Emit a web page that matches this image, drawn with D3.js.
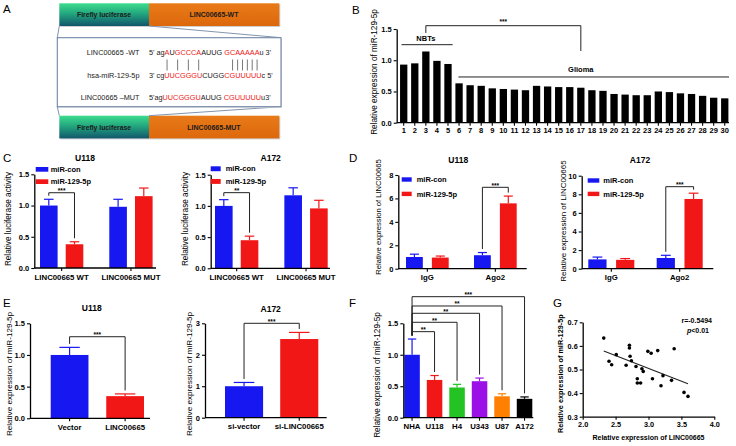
<!DOCTYPE html>
<html><head><meta charset="utf-8">
<script src="https://cdn.jsdelivr.net/npm/d3@7"></script>
<style>
body{margin:0;background:#fff}
svg{display:block}
text{font-family:"Liberation Sans",Arial,Helvetica,sans-serif}
</style>
</head><body>
<svg id="c" width="736" height="446"></svg>
<script>
// ---------------- DATA ----------------
const BLUE = "#1717f2", RED = "#f21717";
// Panel B
const bSamples = ["1","2","3","4","5","6","7","8","9","10","11","12","13","14","15","16","17","18","19","20","21","22","23","24","25","26","27","28","29","30"];
const bValues = [0.93,0.95,1.14,0.99,0.94,0.63,0.60,0.59,0.55,0.54,0.53,0.52,0.59,0.58,0.57,0.57,0.56,0.52,0.51,0.46,0.45,0.44,0.44,0.50,0.49,0.47,0.46,0.43,0.40,0.39];
const bTicks = [0, 0.5, 1.0, 1.5];
// Panel C
const groupsC = ["LINC00665 WT","LINC00665 MUT"];
const seriesNames = ["miR-con","miR-129-5p"];
const cU118Con = [1.00, 0.98], cU118ConErr = [0.10, 0.12];
const cU118Mir = [0.38, 1.15], cU118MirErr = [0.04, 0.13];
const cA172Con = [1.00, 1.17], cA172ConErr = [0.10, 0.12];
const cA172Mir = [0.45, 0.96], cA172MirErr = [0.065, 0.13];
const cTicks = [0, 0.5, 1.0, 1.5];
// Panel D
const groupsD = ["IgG","Ago2"];
const dU118Con = [1.00, 1.15], dU118ConErr = [0.24, 0.23];
const dU118Mir = [0.95, 5.58], dU118MirErr = [0.13, 0.62];
const dA172Con = [1.00, 1.15], dA172ConErr = [0.25, 0.29];
const dA172Mir = [0.95, 7.50], dA172MirErr = [0.14, 0.62];
const dU118Ticks = [0, 2, 4, 6, 8];
const dA172Ticks = [0, 2, 4, 6, 8, 10];
// Panel E
const eU118Cats = ["Vector","LINC00665"], eU118Vals = [1.00, 0.35], eU118Err = [0.12, 0.035];
const eA172Cats = ["si-vector","si-LINC00665"], eA172Vals = [1.00, 2.50], eA172Err = [0.12, 0.21];
const eU118Ticks = [0, 0.5, 1.0, 1.5];
const eA172Ticks = [0, 1, 2, 3];
// Panel F
const fCats = ["NHA","U118","H4","U343","U87","A172"];
const fVals = [1.00, 0.60, 0.48, 0.58, 0.34, 0.30];
const fErr = [0.25, 0.07, 0.05, 0.05, 0.04, 0.03];
const fColors = ["#1717f2","#f21717","#22c322","#9b10e6","#ff8000","#000000"];
const fSig = ["**","**","**","**","***"];
const fTicks = [0, 0.5, 1.0, 1.5];
// Panel G
const gX = [2.32,2.40,2.44,2.51,2.66,2.71,2.71,2.72,2.74,2.81,2.83,2.83,2.88,2.90,2.92,2.99,3.04,3.06,3.14,3.19,3.22,3.35,3.39,3.54,3.60];
const gY = [0.633,0.535,0.520,0.563,0.518,0.603,0.591,0.556,0.537,0.513,0.461,0.443,0.443,0.503,0.492,0.577,0.569,0.461,0.580,0.431,0.474,0.454,0.588,0.403,0.386];
const gXTicks = [2.0, 2.5, 3.0, 3.5, 4.0];
const gYTicks = [0.3, 0.4, 0.5, 0.6, 0.7];
// Panel A
const seqRows = [
  {label:"LINC00665 -WT", parts:[["5' ag",0],["A",1],["U",0],["GCCCA",1],["AUUG ",0],["GCAAAAA",1],["u 3'",0]]},
  {label:"hsa-miR-129-5p", parts:[["3' cg",0],["UUCGGGU",1],["CUGG",0],["CGUUUUU",1],["c 5'",0]]},
  {label:"LINC00665 \u2013MUT", parts:[["5'ag",0],["UUCGGGU",1],["AUUG ",0],["CGUUUUU",1],["u3'",0]]}
];
const pairIdx = [5,7,9,11,18,19,20,21,22,23];

// ---------------- HELPERS ----------------
const svg = d3.select("#c");
function txt(x, y, s, o = {}) {
  return svg.append("text").attr("x", x).attr("y", y).text(s)
    .attr("font-size", o.size || 8).attr("font-weight", o.weight || "normal")
    .attr("text-anchor", o.anchor || "start").attr("fill", o.fill || "#000")
    .attr("font-style", o.style || "normal");
}
function yTitle(x, yc, s, size, weight) {
  svg.append("text").attr("transform", `translate(${x},${yc}) rotate(-90)`)
    .attr("text-anchor", "middle").attr("dy", "0.35em")
    .attr("font-size", size).attr("font-weight", weight || "normal").text(s);
}
function styleAxis(g, size) {
  g.select(".domain").attr("stroke", "#000").attr("stroke-width", 1.3);
  g.selectAll(".tick line").attr("stroke", "#000").attr("stroke-width", 1.1);
  g.selectAll("text").attr("font-size", size).attr("font-weight", "bold").attr("fill", "#000")
    .attr("font-family", '"Liberation Sans",Arial,sans-serif');
}
function fmt1(d) { return d3.format(".1f")(d); }
function fmt0(d) { return d3.format("d")(d); }

function barPanel(o) {
  const y = d3.scaleLinear().domain([0, o.yMax]).range([o.yBot, o.yTop]);
  const xg = d3.scaleBand().domain(o.groups).range(o.barRange).paddingInner(o.padG).paddingOuter(0);
  const names = o.series.map(s => s.name);
  const xs = d3.scaleBand().domain(names).range([0, xg.bandwidth()]).paddingInner(o.padS).paddingOuter(0);
  const bw = xs.bandwidth();
  const cx = (gi, si) => xg(o.groups[gi]) + xs(names[si]) + bw / 2;
  const items = [];
  o.series.forEach((s, si) => o.groups.forEach((gname, gi) => {
    items.push({gi, si, v: s.values[gi], e: s.errors[gi], c: Array.isArray(s.color) ? s.color[gi] : s.color});
  }));
  const cw = Math.max(bw * 0.27, 3.5);
  const g = svg.append("g");
  g.selectAll("line.eb").data(items).join("line").attr("class", "eb")
    .attr("x1", d => cx(d.gi, d.si)).attr("x2", d => cx(d.gi, d.si))
    .attr("y1", d => y(d.v)).attr("y2", d => y(d.v + d.e))
    .attr("stroke", d => d.c).attr("stroke-width", 1.2);
  g.selectAll("line.cap").data(items).join("line").attr("class", "cap")
    .attr("x1", d => cx(d.gi, d.si) - cw).attr("x2", d => cx(d.gi, d.si) + cw)
    .attr("y1", d => y(d.v + d.e)).attr("y2", d => y(d.v + d.e))
    .attr("stroke", d => d.c).attr("stroke-width", 1.2);
  g.selectAll("rect").data(items).join("rect")
    .attr("x", d => cx(d.gi, d.si) - bw / 2).attr("y", d => y(d.v))
    .attr("width", bw).attr("height", d => y(0) - y(d.v)).attr("fill", d => d.c);
  // y axis
  const ya = svg.append("g").attr("transform", `translate(${o.x0},0)`)
    .call(d3.axisLeft(y).tickValues(o.ticks).tickFormat(o.fmt).tickSize(3).tickSizeOuter(0).tickPadding(2));
  styleAxis(ya, 7.5);
  // x axis
  const xa = svg.append("g").attr("transform", `translate(0,${o.yBot})`)
    .call(d3.axisBottom(xg).tickSize(3).tickSizeOuter(0).tickPadding(3));
  xa.select(".domain").remove();
  styleAxis(xa, o.xFont || 7.8);
  svg.append("line").attr("x1", o.x0).attr("x2", o.x1).attr("y1", o.yBot).attr("y2", o.yBot)
    .attr("stroke", "#000").attr("stroke-width", 1.3);
  // brackets
  (o.brackets || []).forEach(b => {
    const [ga, sa] = b.a, [gb, sb] = b.b;
    const xa_ = cx(ga, sa), xb_ = cx(gb, sb);
    const sA = o.series[sa], sB = o.series[sb];
    const yA = y(sA.values[ga] + sA.errors[ga]) - 3.5;
    const yB = y(sB.values[gb] + sB.errors[gb]) - 3.5;
    const yt = y(b.top);
    svg.append("path").attr("d", `M${xa_},${yA}V${yt}H${xb_}V${yB}`)
      .attr("fill", "none").attr("stroke", "#222").attr("stroke-width", 1);
    txt((xa_ + xb_) / 2, yt + 0.5, b.label, {size: 6.5, anchor: "middle", weight: "bold"});
  });
  // legend
  if (o.legend) {
    const L = o.legend;
    o.series.forEach((s, i) => {
      svg.append("rect").attr("x", L.x).attr("y", L.ys[i]).attr("width", L.w).attr("height", L.h).attr("fill", s.color);
      txt(L.tx, L.ys[i] + L.h / 2, s.name, {size: 7.5, weight: "bold"}).attr("dy", "0.35em");
    });
  }
  if (o.title) txt(o.title[0], o.title[1], o.title[2], {size: 8.5, weight: "bold", anchor: "middle"});
  if (o.ylab) yTitle(o.ylab[0], o.ylab[1], o.ylab[2], o.ylab[3] || 8);
}

// ---------------- PANEL LETTERS ----------------
[["A",3,13],["B",352,14],["C",3,162],["D",349,162],["E",3,307],["F",349,307],["G",553,307]]
  .forEach(([s,x,y]) => txt(x, y, s, {size: 11.5}));

// ---------------- PANEL A ----------------
const defs = svg.append("defs");
const gg = defs.append("linearGradient").attr("id", "gr").attr("x1", 0).attr("y1", 0).attr("x2", 0).attr("y2", 1);
gg.append("stop").attr("offset", "0%").attr("stop-color", "#3edc8e");
gg.append("stop").attr("offset", "45%").attr("stop-color", "#23a77e");
gg.append("stop").attr("offset", "100%").attr("stop-color", "#11566c");
const og = defs.append("linearGradient").attr("id", "or").attr("x1", 0).attr("y1", 0).attr("x2", 0).attr("y2", 1);
og.append("stop").attr("offset", "0%").attr("stop-color", "#e97a18");
og.append("stop").attr("offset", "100%").attr("stop-color", "#dc680c");
function construct(y0, label) {
  svg.append("rect").attr("x", 60.3).attr("y", y0 + 1).attr("width", 220).attr("height", 22.7).attr("fill", "#cfcfcf");
  svg.append("rect").attr("x", 59.3).attr("y", y0).attr("width", 89.7).attr("height", 22.7).attr("fill", "url(#gr)");
  svg.append("rect").attr("x", 149).attr("y", y0).attr("width", 130.3).attr("height", 22.7).attr("fill", "url(#or)");
  txt(104, y0 + 11.5, "Firefly luciferase", {size: 6.8, weight: "bold", anchor: "middle", fill: "#1b1b1b"}).attr("dy", "0.35em");
  txt(214, y0 + 11.5, label, {size: 7, weight: "bold", anchor: "middle", fill: "#1b1b1b"}).attr("dy", "0.35em");
}
construct(3.3, "LINC00665-WT");
construct(115.7, "LINC00665-MUT");
// connectors
[[59.3,26,57.3,37.7],[149,26,281,37.7],[57.3,106.7,59.3,115.7],[281,106.7,149,115.7]].forEach(([a,b,c,d]) =>
  svg.append("line").attr("x1", a).attr("y1", b).attr("x2", c).attr("y2", d).attr("stroke", "#8394ad").attr("stroke-width", 1));
svg.append("rect").attr("x", 58.3).attr("y", 38.7).attr("width", 223.7).attr("height", 69).attr("fill", "#d8d8d8");
svg.append("rect").attr("x", 57.3).attr("y", 37.7).attr("width", 223.7).attr("height", 69).attr("fill", "#fff")
  .attr("stroke", "#7086a6").attr("stroke-width", 1.1);
const rowY = [54.8, 78.3, 99.8];
const seqEls = [];
seqRows.forEach((r, i) => {
  txt(139.5, rowY[i], r.label, {size: 7.3, anchor: "end", fill: "#1a1a1a"});
  const t = svg.append("text").attr("x", 149).attr("y", rowY[i]).attr("font-size", 7.3);
  r.parts.forEach(([s, red]) => t.append("tspan").text(s).attr("fill", red ? "#f01818" : "#1a1a1a"));
  seqEls.push(t);
});
// pairing lines, placed at character positions of the WT row
(function () {
  const node = seqEls[0].node();
  pairIdx.forEach(ix => {
    let x;
    try {
      const ext = node.getExtentOfChar(ix);
      x = ext.x + ext.width / 2;
    } catch (e) { x = 149 + ix * 4.6; }
    svg.append("line").attr("x1", x).attr("x2", x).attr("y1", 59.5).attr("y2", 70.5)
      .attr("stroke", "#555").attr("stroke-width", 0.8);
  });
})();

// ---------------- PANEL B ----------------
(function () {
  const x = d3.scaleBand().domain(bSamples).range([400.05, 728.4]).paddingInner(0.34).paddingOuter(0);
  const y = d3.scaleLinear().domain([0, 1.5]).range([122.7, 29]);
  svg.append("g").selectAll("rect").data(bValues).join("rect")
    .attr("x", (d, i) => x(bSamples[i])).attr("y", d => y(d))
    .attr("width", x.bandwidth()).attr("height", d => y(0) - y(d)).attr("fill", "#000");
  const ya = svg.append("g").attr("transform", "translate(396.7,0)")
    .call(d3.axisLeft(y).tickValues(bTicks).tickFormat(fmt1).tickSize(3).tickSizeOuter(0).tickPadding(2));
  styleAxis(ya, 7.5);
  const xa = svg.append("g").attr("transform", "translate(0,122.7)")
    .call(d3.axisBottom(x).tickSize(3).tickSizeOuter(0).tickPadding(2));
  xa.select(".domain").remove();
  styleAxis(xa, 7.5);
  svg.append("line").attr("x1", 396.7).attr("x2", 729).attr("y1", 122.7).attr("y2", 122.7).attr("stroke", "#000").attr("stroke-width", 1.3);
  const c = s => x(s) + x.bandwidth() / 2;
  // group lines
  svg.append("line").attr("x1", x("1") + 1.5).attr("x2", x("5") + x.bandwidth() + 1).attr("y1", y(1.249)).attr("y2", y(1.249)).attr("stroke", "#222").attr("stroke-width", 1);
  txt((c("1") + c("5")) / 2, y(1.249) - 4, "NBTs", {size: 7.5, weight: "bold", anchor: "middle"});
  svg.append("line").attr("x1", x("6") + 3).attr("x2", 729).attr("y1", y(0.732)).attr("y2", y(0.732)).attr("stroke", "#222").attr("stroke-width", 1);
  txt(c("17"), y(0.732) - 5, "Glioma", {size: 7.5, weight: "bold", anchor: "middle"});
  svg.append("path").attr("d", `M${c("3")},${y(1.436)}V${y(1.553)}H${c("17")}V${y(1.148)}`)
    .attr("fill", "none").attr("stroke", "#222").attr("stroke-width", 1);
  txt((c("3") + c("17")) / 2, y(1.553) - 1.5, "***", {size: 6.5, anchor: "middle", weight: "bold"});
  yTitle(374, 72, "Relative expression of miR-129-5p", 8.2);
})();

// ---------------- PANEL C ----------------
barPanel({x0: 34.3, x1: 156, yTop: 174.3, yBot: 268, yMax: 1.5, ticks: cTicks, fmt: fmt1,
  groups: groupsC, barRange: [40, 152.6], padG: 0.375, padS: 0.315,
  series: [{name: seriesNames[0], color: BLUE, values: cU118Con, errors: cU118ConErr},
           {name: seriesNames[1], color: RED, values: cU118Mir, errors: cU118MirErr}],
  brackets: [{a: [0, 0], b: [0, 1], top: 1.205, label: "***"}],
  legend: {x: 35.7, ys: [167, 179.3], w: 12.6, h: 4.7, tx: 50.7},
  title: [85, 160.5, "U118"], ylab: [8.5, 219, "Relative luciferase activity", 8.2]});
barPanel({x0: 210.7, x1: 330, yTop: 174.7, yBot: 268.3, yMax: 1.5, ticks: cTicks, fmt: fmt1,
  groups: groupsC, barRange: [215, 327.7], padG: 0.375, padS: 0.315,
  series: [{name: seriesNames[0], color: BLUE, values: cA172Con, errors: cA172ConErr},
           {name: seriesNames[1], color: RED, values: cA172Mir, errors: cA172MirErr}],
  brackets: [{a: [0, 0], b: [0, 1], top: 1.212, label: "**"}],
  legend: {x: 210.7, ys: [166.3, 179], w: 10, h: 4.9, tx: 225.7},
  title: [270.7, 160.5, "A172"], ylab: [185.5, 219, "Relative luciferase activity", 8.2]});

// ---------------- PANEL D ----------------
barPanel({x0: 398.3, x1: 526.7, yTop: 175, yBot: 268.7, yMax: 8, ticks: dU118Ticks, fmt: fmt0,
  groups: groupsD, barRange: [406, 516.7], padG: 0.372, padS: 0.35,
  series: [{name: seriesNames[0], color: BLUE, values: dU118Con, errors: dU118ConErr},
           {name: seriesNames[1], color: RED, values: dU118Mir, errors: dU118MirErr}],
  brackets: [{a: [1, 0], b: [1, 1], top: 6.95, label: "***"}],
  legend: {x: 401.7, ys: [177.3, 191.7], w: 10, h: 4.4, tx: 416.7},
  title: [458.3, 163, "U118"], ylab: [378, 217, "Relative expression of LINC00665", 7.6]});
barPanel({x0: 581.7, x1: 713.3, yTop: 175.7, yBot: 268.7, yMax: 10, ticks: dA172Ticks, fmt: fmt0,
  groups: groupsD, barRange: [588.3, 702.7], padG: 0.327, padS: 0.344,
  series: [{name: seriesNames[0], color: BLUE, values: dA172Con, errors: dA172ConErr},
           {name: seriesNames[1], color: RED, values: dA172Mir, errors: dA172MirErr}],
  brackets: [{a: [1, 0], b: [1, 1], top: 8.82, label: "***"}],
  legend: {x: 587.7, ys: [178.3, 191.7], w: 11.6, h: 4.4, tx: 603.3},
  title: [640, 163, "A172"], ylab: [563.5, 221, "Relative expression of LINC00665", 8]});

// ---------------- PANEL E ----------------
barPanel({x0: 30, x1: 150, yTop: 323.3, yBot: 418.3, yMax: 1.5, ticks: eU118Ticks, fmt: fmt1,
  groups: eU118Cats, barRange: [50.7, 144], padG: 0.32, padS: 0,
  series: [{name: "v", color: [BLUE, RED], values: eU118Vals, errors: eU118Err}],
  brackets: [{a: [0, 0], b: [1, 0], top: 1.288, label: "***"}],
  title: [91.7, 310.5, "U118"], ylab: [9, 374, "Relative expression of miR-129-5p", 8.1]});
barPanel({x0: 205, x1: 326.7, yTop: 323.3, yBot: 417.7, yMax: 3, ticks: eA172Ticks, fmt: fmt0,
  groups: eA172Cats, barRange: [225, 318.3], padG: 0.31, padS: 0,
  series: [{name: "v", color: [BLUE, RED], values: eA172Vals, errors: eA172Err}],
  brackets: [{a: [0, 0], b: [1, 0], top: 3.0, label: "***"}],
  title: [270.7, 312, "A172"], ylab: [189, 374, "Relative expression of miR-129-5p", 8.1]});

// ---------------- PANEL F ----------------
barPanel({x0: 403.3, x1: 533.3, yTop: 323.3, yBot: 417.7, yMax: 1.5, ticks: fTicks, fmt: fmt1,
  groups: fCats, barRange: [404.3, 532.3], padG: 0.31, padS: 0,
  series: [{name: "v", color: fColors, values: fVals, errors: fErr}],
  brackets: fSig.map((s, i) => ({a: [0, 0], b: [i + 1, 0], top: [1.367, 1.516, 1.659, 1.775, 1.923][i], label: s})),
  ylab: [376.7, 375, "Relative expression of miR-129-5p", 8.2]});

// ---------------- PANEL G ----------------
(function () {
  const x = d3.scaleLinear().domain([2, 4]).range([582.7, 714.3]);
  const y = d3.scaleLinear().domain([0.3, 0.7]).range([416.7, 322.3]);
  const xa = svg.append("g").attr("transform", "translate(0,416.7)")
    .call(d3.axisBottom(x).tickValues(gXTicks).tickFormat(fmt1).tickSize(3).tickSizeOuter(0).tickPadding(2));
  styleAxis(xa, 7.3);
  const ya = svg.append("g").attr("transform", "translate(582.7,0)")
    .call(d3.axisLeft(y).tickValues(gYTicks).tickFormat(fmt1).tickSize(3).tickSizeOuter(0).tickPadding(2));
  styleAxis(ya, 7.3);
  const pts = gX.map((v, i) => [v, gY[i]]);
  const mx = d3.mean(gX), my = d3.mean(gY);
  const slope = d3.sum(pts, p => (p[0] - mx) * (p[1] - my)) / d3.sum(pts, p => (p[0] - mx) ** 2);
  const icpt = my - slope * mx;
  const [xmin, xmax] = d3.extent(gX);
  svg.append("line").attr("x1", x(xmin)).attr("x2", x(xmax))
    .attr("y1", y(icpt + slope * xmin)).attr("y2", y(icpt + slope * xmax))
    .attr("stroke", "#222").attr("stroke-width", 1.1);
  svg.append("g").selectAll("circle").data(pts).join("circle")
    .attr("cx", d => x(d[0])).attr("cy", d => y(d[1])).attr("r", 1.8).attr("fill", "#000");
  txt(712, 323, "r=-0.5494", {size: 7, weight: "bold", anchor: "end"});
  const pt = txt(709, 333, "", {size: 7, weight: "bold", anchor: "end"});
  pt.append("tspan").text("p").attr("font-style", "italic");
  pt.append("tspan").text("<0.01");
  txt(648.5, 439.5, "Relative expression of  LINC00665", {size: 7, weight: "bold", anchor: "middle"});
  yTitle(560, 373.7, "Relative expression of  miR-129-5p", 7.3, "bold");
})();
</script>
</body></html>
